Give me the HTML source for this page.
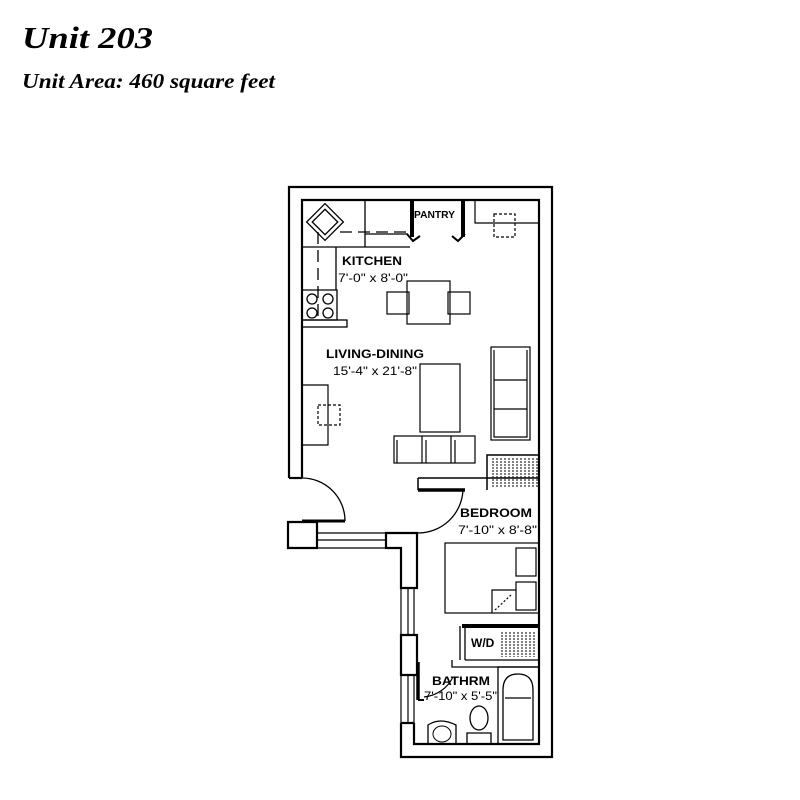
<!DOCTYPE html>
<html><head><meta charset="utf-8"><style>
html,body{margin:0;padding:0;background:#fff;width:800px;height:800px;overflow:hidden}
svg{display:block}
</style></head><body>
<svg width="800" height="800" viewBox="0 0 800 800" xmlns="http://www.w3.org/2000/svg" font-family="Liberation Sans, sans-serif">
<text x="22" y="48" font-family="Liberation Serif, serif" font-style="italic" font-weight="bold" font-size="31" textLength="131" lengthAdjust="spacingAndGlyphs">Unit 203</text>
<text x="22" y="88" font-family="Liberation Serif, serif" font-style="italic" font-weight="bold" font-size="21" textLength="253" lengthAdjust="spacingAndGlyphs">Unit Area: 460 square feet</text>

<g fill="none" stroke="#000" stroke-width="2.2">
<path d="M289,478 V187 H552 V757 H401 V723"/>
<path d="M302,478 V200 H539 V744 H414 V723"/>
<path d="M289,478 H302"/>
<path d="M288,522 H317 V548 H288 Z"/>
<path d="M317,533 H386 M317,548 H386 M317,540 H386" stroke-width="1.2"/>
<path d="M386,533 H417 V588 H401 V548 H386 Z"/>
<path d="M401,588 V635 M414,588 V635 M408,588 V635" stroke-width="1.2"/>
<path d="M401,635 H417 V675 H401 Z"/>
<path d="M401,675 V723 M414,675 V723 M408,675 V723" stroke-width="1.2"/>
<path d="M401,723 H414"/>
<path d="M302,521 H345" stroke-width="3"/>
<path d="M302,478 A43,43 0 0 1 345,521" stroke-width="1.3"/>
<path d="M418,478 H539 M418,478 V490" stroke-width="1.5"/>
<path d="M418,490 H465" stroke-width="3.5"/>
<path d="M463,490 A45,45 0 0 1 418,533" stroke-width="1.3"/>
<path d="M487,490 V455 H539" stroke-width="1.5"/>
<g stroke-width="1" stroke-dasharray="2,1">
<path d="M493,458 V488 M497,458 V488 M501,458 V488 M505,458 V488 M509,458 V488 M513,458 V488 M517,458 V488 M521,458 V488 M525,458 V488 M529,458 V488 M533,458 V488 M537,458 V488"/>
</g>
<g stroke-width="1.2">
<rect x="445" y="543" width="94" height="70"/>
<rect x="516" y="548" width="20" height="28"/>
<rect x="516" y="582" width="20" height="28"/>
<path d="M492,613 V590 H516"/>
<path d="M495,610 L512,594" stroke-dasharray="2,2"/>
</g>
<path d="M462,626 H539" stroke-width="4"/>
<path d="M460,626 V660 M465,626 V660 M465,660 H539 M452,660 V667 H539" stroke-width="1.3"/>
<g stroke-width="1" stroke-dasharray="2,1">
<path d="M502,632 V657 M506,632 V657 M510,632 V657 M514,632 V657 M518,632 V657 M522,632 V657 M526,632 V657 M530,632 V657 M534,632 V657"/>
</g>
<path d="M418,662 V700" stroke-width="3.5"/>
<path d="M418,700 H424" stroke-width="2"/>
<path d="M424,697 A36,36 0 0 0 453,677" stroke-width="1.2"/>
<g stroke-width="1.3">
<rect x="498" y="667" width="41" height="77"/>
<path d="M503,740 V690 Q503,674 518,674 Q533,674 533,690 V740 Z"/>
<path d="M505,698 H531"/>
</g>
<g stroke-width="1.3">
<ellipse cx="479" cy="718" rx="9" ry="12"/>
<path d="M467,744 V733 H491 V744"/>
</g>
<path d="M428,744 V725 Q440,717 456,725 V744" stroke-width="1.3"/>
<ellipse cx="442" cy="734" rx="9" ry="8" stroke-width="1"/>
<g stroke-width="1.3">
<path d="M302,247 H410 M336,247 V290 M302,290 H337 V320 H302"/>
<rect x="302" y="320" width="45" height="7"/>
<path d="M365,200 V247 M365,234 H408" />
<path d="M340,232 H408 M318,232 V320" stroke-dasharray="12,6"/>
<rect x="312" y="209" width="26" height="26" transform="rotate(45 325 222)"/>
<rect x="316" y="213" width="18" height="18" transform="rotate(45 325 222)"/>
<circle cx="312" cy="299" r="5"/><circle cx="328" cy="299" r="5"/>
<circle cx="312" cy="313" r="5"/><circle cx="328" cy="313" r="5"/>
</g>
<path d="M412,200 V237 M463,200 V237" stroke-width="4"/>
<path d="M407,234 L413,241 L420,236 M452,236 L458,241 L465,234" stroke-width="2"/>
<g stroke-width="1.2">
<path d="M475,200 V223 H539"/>
<path d="M494,214 H515 V237 H494 Z" stroke-dasharray="3,2"/>
</g>
<g stroke-width="1.2">
<rect x="407" y="281" width="43" height="43"/>
<rect x="387" y="292" width="22" height="22"/>
<rect x="448" y="292" width="22" height="22"/>
</g>
<g stroke-width="1.2">
<rect x="491" y="347" width="39" height="93"/>
<path d="M494,350 V437 H527 V350 M494,380 H527 M494,409 H527"/>
</g>
<rect x="420" y="364" width="40" height="68" stroke-width="1.2"/>
<g stroke-width="1.2">
<rect x="394" y="436" width="81" height="27"/>
<path d="M422,436 V463 M451,436 V463 M397,440 V463 M426,440 V463 M455,440 V463"/>
</g>
<g stroke-width="1.2">
<path d="M302,385 H328 V445 H302"/>
<path d="M318,405 H340 V425 H318 Z" stroke-dasharray="3,2"/>
</g>
</g>

<g font-weight="bold" font-size="12" fill="#000">
<text x="414" y="218" font-size="10" textLength="41" lengthAdjust="spacingAndGlyphs">PANTRY</text>
<text x="342" y="265" textLength="60" lengthAdjust="spacingAndGlyphs">KITCHEN</text>
<text x="326" y="358" textLength="98" lengthAdjust="spacingAndGlyphs">LIVING-DINING</text>
<text x="460" y="517" textLength="72" lengthAdjust="spacingAndGlyphs">BEDROOM</text>
<text x="471" y="647">W/D</text>
<text x="432" y="685" textLength="58" lengthAdjust="spacingAndGlyphs">BATHRM</text>
</g>
<g font-size="12" fill="#000">
<text x="338" y="282" textLength="70" lengthAdjust="spacingAndGlyphs">7'-0" x 8'-0"</text>
<text x="333" y="375" textLength="84" lengthAdjust="spacingAndGlyphs">15'-4" x 21'-8"</text>
<text x="458" y="534" textLength="79" lengthAdjust="spacingAndGlyphs">7'-10" x 8'-8"</text>
<text x="424" y="700" textLength="73" lengthAdjust="spacingAndGlyphs">7'-10" x 5'-5"</text>
</g>
</svg>
</body></html>
